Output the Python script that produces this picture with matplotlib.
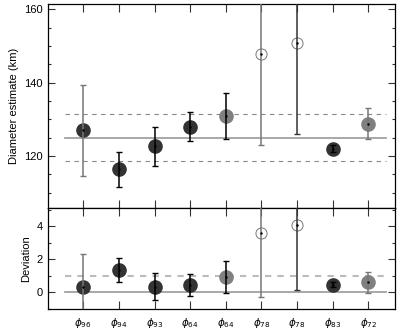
import numpy as np
import matplotlib
matplotlib.use("Agg")
import matplotlib.pyplot as plt
from matplotlib.ticker import MultipleLocator

plt.rcParams['font.family'] = ['Liberation Sans', 'DejaVu Sans']
plt.rcParams['mathtext.fontset'] = 'dejavusans'

# data
labels = [r'$\phi_{96}$', r'$\phi_{94}$', r'$\phi_{93}$', r'$\phi_{64}$', r'$\phi_{64}$',
          r'$\phi_{78}$', r'$\phi_{78}$', r'$\phi_{83}$', r'$\phi_{72}$']
diam = [127.0, 116.3, 122.6, 128.0, 131.0, 147.8, 150.8, 122.0, 128.8]
diam_lo = [114.5, 111.6, 117.3, 124.1, 124.7, 123.0, 126.0, 121.0, 124.7]
diam_hi = [139.5, 121.2, 127.8, 132.1, 137.1, 175.0, 175.0, 123.0, 133.0]
dev = [0.30, 1.33, 0.35, 0.47, 0.92, 3.60, 4.05, 0.47, 0.60]
dev_lo = [-2.0, 0.60, -0.45, -0.20, -0.05, -0.30, 0.15, 0.30, -0.05]
dev_hi = [2.30, 2.10, 1.20, 1.10, 1.90, 8.0, 8.0, 0.65, 1.25]
mean_d = 125.0
band = [118.5, 131.5]

# marker style per point: 'd' dark filled, 'g' gray filled, 'o' open
kind = ['d', 'd', 'd', 'd', 'g', 'o', 'o', 'd', 'g']
ecol = ['#777777', 'k', 'k', 'k', 'k', '#777777', '#333333', 'k', '#777777']

x = np.arange(1, len(labels) + 1)

fig = plt.figure(figsize=(4.07, 3.30), dpi=100)
ax1 = fig.add_axes([0.117, 0.370, 0.8535, 0.618])
ax2 = fig.add_axes([0.117, 0.0636, 0.8535, 0.3064])


def draw(ax, y, lo, hi):
    for i in range(len(x)):
        k = kind[i]
        if k == 'o':
            ax.plot(x[i], y[i], 'o', ms=8, mfc='none', mec='#777777', mew=0.7, zorder=2)
        else:
            c = '#333333' if k == 'd' else '#808080'
            ax.plot(x[i], y[i], 'o', ms=9.5, color=c, mec=c, zorder=2)
        ax.errorbar(x[i], y[i], yerr=[[y[i] - lo[i]], [hi[i] - y[i]]], fmt='none',
                    ecolor=ecol[i], elinewidth=1.1, capsize=2.2, capthick=1.0, zorder=3)
        ax.plot(x[i], y[i], '.', ms=1.5, color='k', zorder=4)


ax1.axhline(mean_d, xmin=0.5 / 9.75, xmax=9.5 / 9.75, color='#999999', lw=1.2, zorder=1)
for b in band:
    ax1.axhline(b, xmin=0.5 / 9.75, xmax=9.5 / 9.75, color='#888888', lw=0.8,
                ls=(0, (4, 4)), zorder=1)
draw(ax1, diam, diam_lo, diam_hi)
ax1.set_xlim(0, 9.75)
ax1.set_ylim(105.8, 161.5)
ax1.yaxis.set_major_locator(MultipleLocator(20))
ax1.yaxis.set_minor_locator(MultipleLocator(5))
ax1.set_ylabel('Diameter estimate (km)', fontsize=8)
ax1.set_xticks(x)
ax1.set_xticklabels([])

ax2.axhline(0, xmin=0.5 / 9.75, xmax=9.5 / 9.75, color='#999999', lw=1.2, zorder=1)
ax2.axhline(1, xmin=0.5 / 9.75, xmax=9.5 / 9.75, color='#bbbbbb', lw=1.5,
            ls=(0, (3, 3)), zorder=1)
draw(ax2, dev, dev_lo, dev_hi)
ax2.set_xlim(0, 9.75)
ax2.set_ylim(-1.0, 5.1)
ax2.yaxis.set_major_locator(MultipleLocator(2))
ax2.yaxis.set_minor_locator(MultipleLocator(1))
ax2.set_ylabel('Deviation', fontsize=8)
ax2.set_xticks(x)
ax2.set_xticklabels(labels, fontsize=7.5)

for ax in (ax1, ax2):
    ax.tick_params(which='both', direction='in', top=True, right=True, labelsize=8,
                   width=0.8, color='#333333')
    ax.tick_params(which='major', length=5)
    ax.tick_params(which='minor', length=2.5)
    ax.tick_params(axis='x', which='major', length=6, pad=5, labelsize=7.5)
    for s in ax.spines.values():
        s.set_linewidth(0.9)

fig.savefig('out.png', dpi=100)
